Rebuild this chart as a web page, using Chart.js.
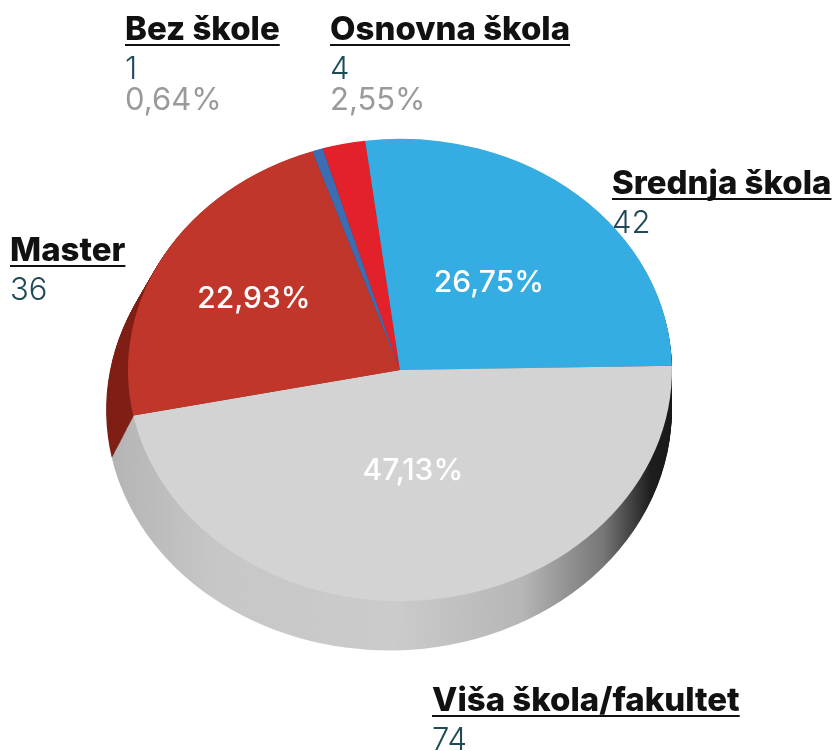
<!DOCTYPE html>
<html>
<head>
<meta charset="utf-8">
<script src="https://cdn.jsdelivr.net/npm/chart.js@4.4.0/dist/chart.umd.min.js"></script>
<style>
    html, body { margin: 0; padding: 0; background: #fff; }
    #wrap { width: 833px; height: 751px; }
</style>
</head>
<body>
<div id="wrap"><canvas id="eduChart" width="833" height="751"></canvas></div>
<script>
// Data
const categories = ['Bez škole', 'Osnovna škola', 'Srednja škola', 'Viša škola/fakultet', 'Master'];
const counts = [1, 4, 42, 74, 36];

// Colours (top face and side)
const sliceColors = ['#3a6db3', '#e3212a', '#36ade2', '#d3d3d3', '#c0362a'];
const sideColors = ['#244f86', '#9c1a1c', '#2284b0', '#cbcbcb', '#8e2318'];

// Where the outer labels go: [x, title baseline], and whether the % is shown outside
const labelSpots = [[125, 40], [330, 40], [612, 194], [432, 711], [10, 261]];
const percentOutside = [true, true, false, false, false];
const innerRadius = [0, 0, 0.5, 0.44, 0.62];

const tilt = 0.85;
const depth = 40;
const spread = 0.04;
const shiftLeft = 11;

const total = counts.reduce((a, b) => a + b, 0);
function pct(v) {
    return (v / total * 100).toFixed(2).replace('.', ',') + '%';
}

// Fake 3D: squash the pie and extrude a darker side under it
const tiltPlugin = {
    id: 'tilt',
    beforeDatasetsDraw(chart) {
        const ctx = chart.ctx;
        const arcs = chart.getDatasetMeta(0).data;
        const cx = arcs[0].x, cy = arcs[0].y, R = arcs[0].outerRadius;

        ctx.save();
        ctx.translate(cx, cy);
        ctx.scale(1, tilt);
        ctx.translate(-cx, -cy);

        for (let d = depth; d > 0; d--) {
            const t = d / depth;
            const grow = 1 + spread * t;
            const ox = -shiftLeft * t;
            const oy = d / tilt;
            arcs.forEach((arc, i) => {
                ctx.beginPath();
                ctx.moveTo(arc.x + ox, arc.y + oy);
                ctx.arc(arc.x + ox, arc.y + oy, arc.outerRadius * grow, arc.startAngle, arc.endAngle);
                ctx.closePath();
                ctx.fillStyle = sideColors[i];
                ctx.fill();
            });
        }

        // shading across the side
        const g = ctx.createLinearGradient(cx - R * 1.1, 0, cx + R * 1.05, 0);
        g.addColorStop(0, 'rgba(0,0,0,0.12)');
        g.addColorStop(0.2, 'rgba(0,0,0,0.02)');
        g.addColorStop(0.5, 'rgba(0,0,0,0)');
        g.addColorStop(0.72, 'rgba(0,0,0,0.1)');
        g.addColorStop(0.86, 'rgba(0,0,0,0.42)');
        g.addColorStop(0.94, 'rgba(0,0,0,0.85)');
        g.addColorStop(1, 'rgba(0,0,0,0.9)');
        ctx.globalCompositeOperation = 'source-atop';
        ctx.fillStyle = g;
        ctx.fillRect(cx - R * 1.3, cy - R * 1.3, R * 2.6, R * 2.6 + depth * 2);
        ctx.globalCompositeOperation = 'source-over';
    },
    afterDatasetsDraw(chart) {
        const ctx = chart.ctx;
        ctx.restore();

        // percentages inside the slices
        const arcs = chart.getDatasetMeta(0).data;
        ctx.save();
        ctx.fillStyle = '#ffffff';
        ctx.font = '500 30px Inter';
        ctx.textAlign = 'center';
        ctx.textBaseline = 'middle';
        arcs.forEach((arc, i) => {
            if (percentOutside[i]) return;
            const mid = (arc.startAngle + arc.endAngle) / 2;
            const r = arc.outerRadius * innerRadius[i];
            ctx.fillText(pct(counts[i]), arc.x + Math.cos(mid) * r, arc.y + Math.sin(mid) * r * tilt);
        });
        ctx.restore();
    },
    afterDraw(chart) {
        const ctx = chart.ctx;
        ctx.save();
        ctx.textAlign = 'left';
        ctx.textBaseline = 'alphabetic';
        categories.forEach((name, i) => {
            const [x, y] = labelSpots[i];
            ctx.font = '800 33px Inter';
            ctx.fillStyle = '#111111';
            ctx.fillText(name, x, y);
            const w = ctx.measureText(name).width;
            ctx.fillRect(x, y + 4, w, 2);

            ctx.font = '300 31px Inter';
            ctx.fillStyle = '#1f4b57';
            ctx.fillText(String(counts[i]), x, y + 39);

            if (percentOutside[i]) {
                ctx.font = '400 31px Inter';
                ctx.fillStyle = '#9a9a9a';
                ctx.fillText(pct(counts[i]), x, y + 70);
            }
        });
        ctx.restore();
    }
};

new Chart(document.getElementById('eduChart'), {
    type: 'pie',
    data: {
        labels: categories,
        datasets: [{
            data: counts,
            backgroundColor: sliceColors,
            borderWidth: 0,
            clip: false
        }]
    },
    options: {
        responsive: false,
        animation: false,
        rotation: -18.8,
        layout: {
            padding: { left: 128, right: 161, top: 98, bottom: 109 }
        },
        plugins: {
            legend: { display: false },
            tooltip: { enabled: false }
        }
    },
    plugins: [tiltPlugin]
});
</script>
</body>
</html>
